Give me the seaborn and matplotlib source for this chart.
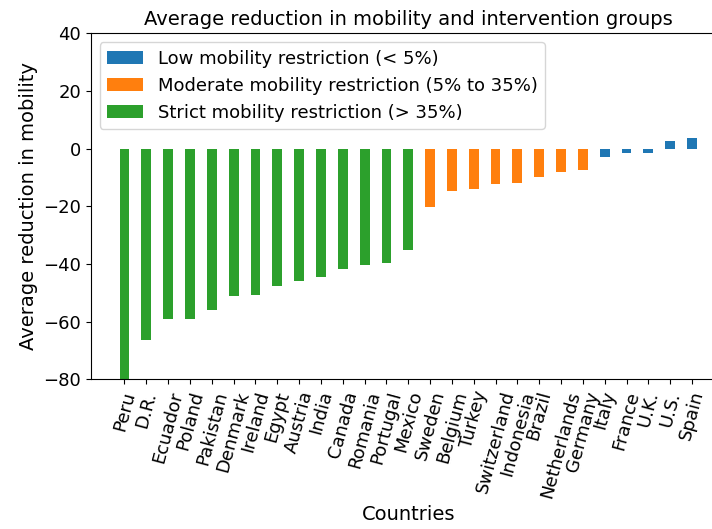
import matplotlib
matplotlib.use("Agg")
import matplotlib.pyplot as plt
import seaborn as sns
import pandas as pd

# Data
countries = ["Peru", "D.R.", "Ecuador", "Poland", "Pakistan", "Denmark", "Ireland",
             "Egypt", "Austria", "India", "Canada", "Romania", "Portugal", "Mexico",
             "Sweden", "Belgium", "Turkey", "Switzerland", "Indonesia", "Brazil",
             "Netherlands", "Germany", "Italy", "France", "U.K.", "U.S.", "Spain"]
reduction = [-82, -66.5, -59.2, -59.2, -55.9, -51.0, -50.6,
             -47.8, -45.8, -44.5, -41.6, -40.5, -39.6, -35.2,
             -20.1, -14.8, -14.0, -12.4, -11.9, -10.0,
             -8.0, -7.5, -3.0, -1.4, -1.4, 2.6, 3.8]
low = "Low mobility restriction (< 5%)"
moderate = "Moderate mobility restriction (5% to 35%)"
strict = "Strict mobility restriction (> 35%)"
groups = [strict] * 14 + [moderate] * 8 + [low] * 5
group_order = [low, moderate, strict]
group_colors = {low: "#1f77b4", moderate: "#ff7f0e", strict: "#2ca02c"}

df = pd.DataFrame({"Country": countries, "Reduction": reduction, "Group": groups})

plt.rcParams["font.family"] = ["DejaVu Sans"]
plt.rcParams["font.size"] = 13

fig = plt.figure(figsize=(7.12, 5.29), dpi=100)
ax = fig.add_axes([0.1274, 0.283, 0.892, 0.654])

bar_width = 0.45
sns.barplot(data=df, x="Country", y="Reduction", hue="Group", hue_order=group_order,
            palette=group_colors, dodge=False, width=bar_width, saturation=1, ax=ax)

n = len(countries)
span = (n - 1) + bar_width
ax.set_xlim(-bar_width / 2 - 0.05 * span, n - 1 + bar_width / 2 + 0.05 * span)
ax.set_ylim(-80, 40)
ax.set_yticks([-80, -60, -40, -20, 0, 20, 40])

ax.set_title("Average reduction in mobility and intervention groups", fontsize=14)
ax.set_xlabel("Countries", fontsize=14)
ax.set_ylabel("Average reduction in mobility", fontsize=14)
ax.tick_params(axis="both", labelsize=13)
ax.tick_params(axis="x", labelrotation=75)
for lbl in ax.get_xticklabels():
    lbl.set_ha("center")

ax.legend(loc="upper left", fontsize=13, title=None)

fig.savefig("out.png", dpi=100)
plt.close(fig)
